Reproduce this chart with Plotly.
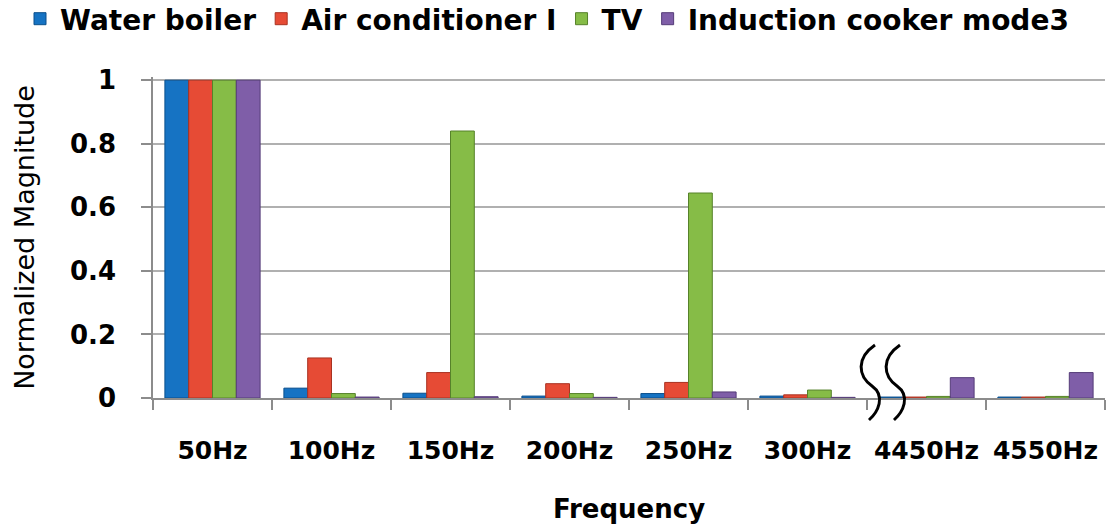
import plotly.graph_objects as go

categories = ["50Hz", "100Hz", "150Hz", "200Hz", "250Hz", "300Hz", "4450Hz", "4550Hz"]
water_boiler = [1.0, 0.031, 0.015, 0.006, 0.014, 0.006, 0.003, 0.003]
air_conditioner = [1.0, 0.126, 0.080, 0.045, 0.049, 0.010, 0.003, 0.003]
tv = [1.0, 0.014, 0.840, 0.014, 0.645, 0.025, 0.005, 0.005]
induction = [1.0, 0.003, 0.004, 0.002, 0.019, 0.002, 0.064, 0.080]

series = [
    ("Water boiler", water_boiler, "#1673c3", "#0b4f8c"),
    ("Air conditioner I", air_conditioner, "#e64b35", "#a93221"),
    ("TV", tv, "#86bc47", "#56822a"),
    ("Induction cooker mode3", induction, "#7f5ea8", "#553c78"),
]

fig = go.Figure()
for name, vals, col, edge in series:
    fig.add_trace(go.Bar(
        x=categories, y=vals, name=name,
        marker=dict(color=col, line=dict(color=edge, width=1)),
    ))

W, H = 1111, 530
L, R, T, B = 153, 6, 77, 132
n = len(categories)
break_index = 5.5  # boundary between 300Hz and 4450Hz
plot_w = W - L - R
plot_h = H - T - B
ymax = 1.01


def to_paper(dx_px, y_px):
    """dx in px from the break boundary, y in px above the baseline"""
    bx = (break_index + 0.5) / n
    return bx + dx_px / plot_w, y_px / plot_h


def s_curve(offset):
    pts = [(11, 53), (-8, 40), (-6, 22), (8, 12), (22, 2), (14, -14), (5, -22)]
    conv = [to_paper(px + offset, py) for px, py in pts]
    return ("M {:.5f},{:.5f} C {:.5f},{:.5f} {:.5f},{:.5f} {:.5f},{:.5f} "
            "C {:.5f},{:.5f} {:.5f},{:.5f} {:.5f},{:.5f}").format(
        *conv[0], *conv[1], *conv[2], *conv[3], *conv[4], *conv[5], *conv[6])


shapes = []
for off in (-3, 22):
    shapes.append(dict(type="path", xref="paper", yref="paper", path=s_curve(off),
                       line=dict(color="black", width=3)))

legend_left_px = 20
legend_top_px = -6
plot_bottom_px = H - B

fig.update_layout(
    width=W, height=H,
    margin=dict(l=L, r=R, t=T, b=B, autoexpand=False),
    plot_bgcolor="white", paper_bgcolor="white",
    barmode="group", bargap=0.2, bargroupgap=0.0,
    font=dict(family="DejaVu Sans", color="black"),
    legend=dict(
        orientation="h", xref="paper", yref="paper",
        x=(legend_left_px - L) / plot_w,
        y=(plot_bottom_px - legend_top_px) / plot_h,
        xanchor="left", yanchor="top",
        font=dict(family="DejaVu Sans", size=28, weight="bold"),
        itemwidth=30, tracegroupgap=0, bgcolor="rgba(0,0,0,0)",
    ),
    xaxis=dict(
        showline=True, linecolor="#8c8c8c", linewidth=1.5,
        ticks="outside", ticklen=10, tickcolor="#8c8c8c", tickwidth=1.5,
        tickson="boundaries",
        tickfont=dict(family="DejaVu Sans", size=25, weight="bold"),
        ticklabelstandoff=29,
        title=dict(text="Frequency", font=dict(family="DejaVu Sans", size=26, weight="bold"),
                   standoff=36),
        automargin=False,
    ),
    yaxis=dict(
        range=[0, ymax], dtick=0.2, tick0=0,
        showline=True, linecolor="#8c8c8c", linewidth=1.5,
        showgrid=True, gridcolor="#b0b0b0", gridwidth=1.5,
        ticks="outside", ticklen=10, tickcolor="#8c8c8c", tickwidth=1.5,
        tickfont=dict(family="DejaVu Sans", size=26, weight="bold"),
        ticklabelstandoff=20,
        title=dict(text="Normalized Magnitude", font=dict(family="DejaVu Sans", size=27),
                   standoff=28),
        zeroline=False,
        automargin=False,
    ),
    shapes=shapes,
)

# remove the default 8px page margin so the figure fills the window exactly
fig.write_html("out.html", config={"displayModeBar": False},
               post_script="document.body.style.margin='0';")
